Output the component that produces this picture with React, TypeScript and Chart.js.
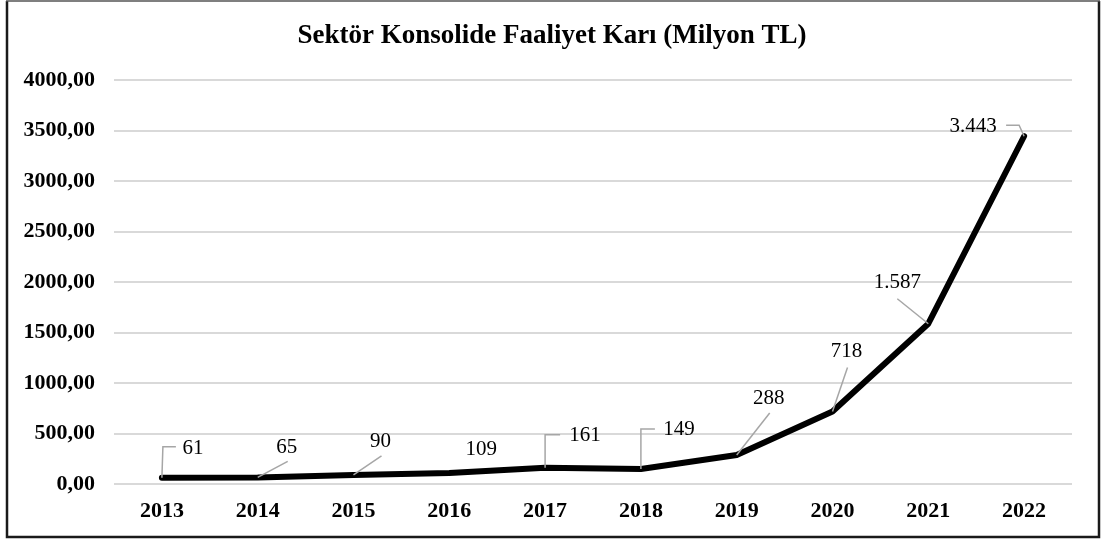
import React, { useEffect, useRef } from "react";
import { Chart, registerables } from "chart.js";

Chart.register(...registerables);

const title = "Sektör Konsolide Faaliyet Karı (Milyon TL)";
const years = ["2013", "2014", "2015", "2016", "2017", "2018", "2019", "2020", "2021", "2022"];
const profit = [61, 65, 90, 109, 161, 149, 288, 718, 1587, 3443];
const yTicks = [0, 500, 1000, 1500, 2000, 2500, 3000, 3500, 4000];

// label placement (offset of text centre from the data point) and leader vertices
const labelOffsets: [number, number][] = [
  [31, -29], [29, -30], [27, -33], [32, -24], [40, -32],
  [38, -39], [32, -56], [14, -60], [-31, -41], [-51, -10],
];
const leaderPaths: [number, number][][] = [
  [[1, -31], [14, -31]],
  [[30, -16]],
  [[28, -19]],
  [],
  [[0, -33], [15, -33]],
  [[0, -40], [14, -40]],
  [[33, -42]],
  [[15, -44]],
  [[-31, -25]],
  [[-5, -11], [-18, -11]],
];

const fmtTR = (v: number) => String(v).replace(/\B(?=(\d{3})+(?!\d))/g, ".");
const fmtTick = (v: number) => Number(v).toFixed(2).replace(".", ",");

const SERIF = "'Liberation Serif', 'Times New Roman', serif";

const decorPlugin = {
  id: "decor",
  beforeDraw(chart: any) {
    const { ctx } = chart;
    ctx.save();
    ctx.fillStyle = "#ffffff";
    ctx.fillRect(0, 0, chart.width, chart.height);
    ctx.restore();
  },
  afterDraw(chart: any) {
    const { ctx } = chart;
    ctx.save();
    // frame
    ctx.strokeStyle = "#1a1a1a";
    ctx.lineWidth = 2.5;
    ctx.beginPath();
    ctx.moveTo(7, 1);
    ctx.lineTo(7, 537);
    ctx.lineTo(1099, 537);
    ctx.lineTo(1099, 1);
    ctx.stroke();
    ctx.strokeStyle = "#555";
    ctx.lineWidth = 1.5;
    ctx.beginPath();
    ctx.moveTo(6, 1);
    ctx.lineTo(1100, 1);
    ctx.stroke();
    // title
    ctx.fillStyle = "#000";
    ctx.font = `bold 27px ${SERIF}`;
    ctx.textAlign = "center";
    ctx.textBaseline = "alphabetic";
    ctx.fillText(title, 552, 43);
    ctx.restore();
  },
  afterDatasetsDraw(chart: any) {
    const { ctx } = chart;
    const meta = chart.getDatasetMeta(0);
    ctx.save();
    meta.data.forEach((pt: any, i: number) => {
      const px = pt.x;
      const py = pt.y;
      const path = leaderPaths[i];
      if (path.length) {
        ctx.strokeStyle = "#a6a6a6";
        ctx.lineWidth = 1.5;
        ctx.beginPath();
        ctx.moveTo(px, py);
        path.forEach(([dx, dy]) => ctx.lineTo(px + dx, py + dy));
        ctx.stroke();
      }
      const [ox, oy] = labelOffsets[i];
      ctx.fillStyle = "#000";
      ctx.font = `21px ${SERIF}`;
      ctx.textAlign = "center";
      ctx.textBaseline = "middle";
      ctx.fillText(fmtTR(profit[i]), px + ox, py + oy);
    });
    ctx.restore();
  },
};

export default function App() {
  const ref = useRef<HTMLCanvasElement | null>(null);
  useEffect(() => {
    if (!ref.current) return;
    const chart = new Chart(ref.current, {
      type: "line",
      data: {
        labels: years,
        datasets: [
          {
            data: profit,
            borderColor: "#000",
            borderWidth: 6,
            pointRadius: 0,
            tension: 0,
            borderJoinStyle: "round",
            borderCapStyle: "round",
          },
        ],
      },
      options: {
        animation: false,
        responsive: false,
        maintainAspectRatio: false,
        devicePixelRatio: 1,
        layout: { padding: { left: 0, right: 29, top: 80, bottom: 0 } },
        plugins: {
          legend: { display: false },
          title: { display: false },
          tooltip: { enabled: false },
        },
        scales: {
          x: {
            offset: true,
            grid: { display: false, drawTicks: false },
            border: { display: false },
            ticks: {
              color: "#000",
              font: { family: SERIF, size: 22, weight: "bold" },
              padding: 14,
              maxRotation: 0,
            },
            afterFit: (s: any) => {
              s.height = 56;
            },
          },
          y: {
            min: 0,
            max: 4000,
            afterBuildTicks: (s: any) => {
              s.ticks = yTicks.map((v) => ({ value: v }));
            },
            grid: { color: "#d9d9d9", lineWidth: 2, drawTicks: false },
            border: { display: false },
            ticks: {
              color: "#000",
              font: { family: SERIF, size: 22, weight: "bold" },
              padding: 19,
              callback: (v: any) => fmtTick(Number(v)),
            },
            afterFit: (s: any) => {
              s.width = 114;
            },
          },
        },
      },
      plugins: [decorPlugin],
    });
    return () => chart.destroy();
  }, []);
  return (
    <div style={{ position: "fixed", left: 0, top: 0, width: 1101, height: 540, background: "#fff" }}>
      <canvas ref={ref} width={1101} height={540} style={{ width: 1101, height: 540, display: "block" }} />
    </div>
  );
}
